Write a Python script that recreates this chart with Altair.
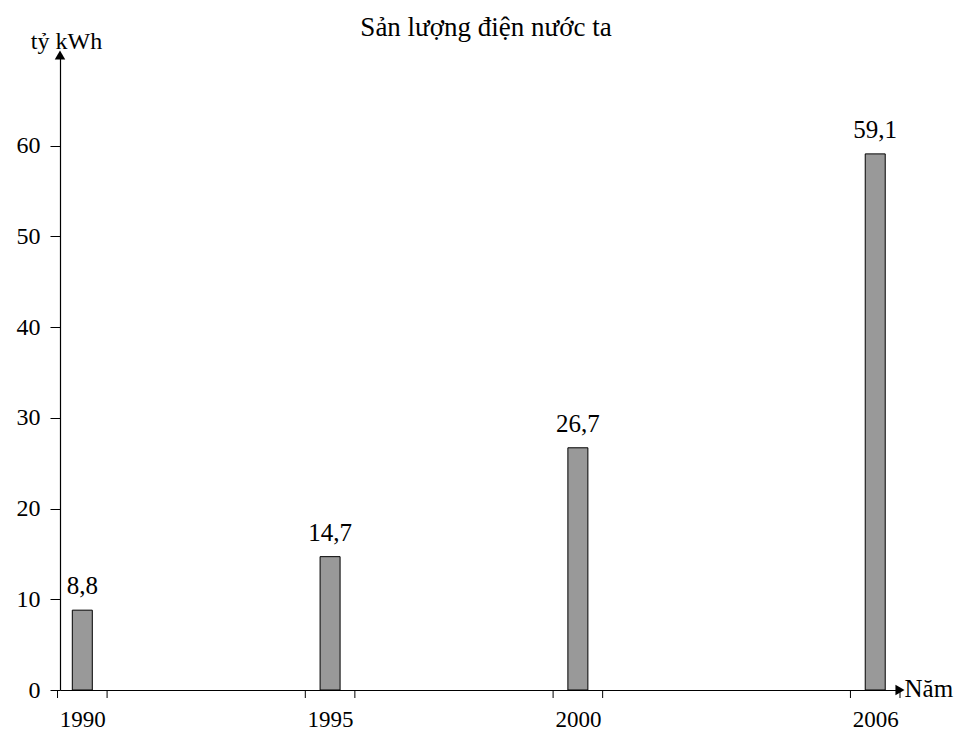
import altair as alt
import pandas as pd

years = [1990, 1995, 2000, 2006]
values = [8.8, 14.7, 26.7, 59.1]
labels = ["8,8", "14,7", "26,7", "59,1"]
y_ticks = [0, 10, 20, 30, 40, 50, 60]

x_domain = [1989.55, 2006.5]
y_domain = [0, 70]

FONT = "Liberation Serif"

df = pd.DataFrame({"year": years, "value": values, "label": labels})
ticks_df = pd.DataFrame({"pos": [y - 0.5 for y in years] + [y + 0.5 for y in years]})
ticks_df = ticks_df[ticks_df["pos"] >= x_domain[0] - 0.1]

xs = alt.Scale(domain=x_domain, nice=False, zero=False, padding=0)
ys = alt.Scale(domain=y_domain, nice=False, padding=0)

x_axis = alt.Axis(values=years, format="d", ticks=False, grid=False,
                  labelFont=FONT, labelFontSize=23, labelColor="black",
                  labelPadding=18, domainColor="black", domainWidth=1.2,
                  title="Năm", titleFont=FONT, titleFontSize=25, titleFontWeight="normal",
                  titleAngle=0, titleAlign="left", titleBaseline="middle",
                  titleX=844, titleY=-2, titleColor="black")
y_axis = alt.Axis(values=y_ticks, grid=False, tickSize=10, tickColor="black",
                  labelFont=FONT, labelFontSize=24, labelColor="black",
                  labelPadding=10, domainColor="black", domainWidth=1.2,
                  title="tỷ kWh", titleFont=FONT, titleFontSize=24, titleFontWeight="normal",
                  titleAngle=0, titleAlign="center", titleBaseline="middle",
                  titleX=6, titleY=-14, titleColor="black")

bars = alt.Chart(df).mark_bar(size=20, color="#999999", stroke="black", strokeWidth=1).encode(
    x=alt.X("year:Q", scale=xs, axis=x_axis),
    y=alt.Y("value:Q", scale=ys, axis=y_axis),
)

text = alt.Chart(df).mark_text(font=FONT, fontSize=25, dy=-24, color="black").encode(
    x=alt.X("year:Q", scale=xs),
    y=alt.Y("value:Q", scale=ys),
    text="label:N",
)

xticks = alt.Chart(ticks_df).mark_rule(color="black", strokeWidth=1).encode(
    x=alt.X("pos:Q", scale=xs),
    y=alt.value(635),
    y2=alt.value(643),
)

arrow_up = alt.Chart(pd.DataFrame({"x": [x_domain[0]], "y": [y_domain[1]]})).mark_point(
    shape="triangle-up", filled=True, color="black", size=110, opacity=1).encode(
    x=alt.X("x:Q", scale=xs), y=alt.Y("y:Q", scale=ys))

arrow_right = alt.Chart(pd.DataFrame({"x": [x_domain[1]], "y": [y_domain[0]]})).mark_point(
    shape="triangle-right", filled=True, color="black", size=110, opacity=1).encode(
    x=alt.X("x:Q", scale=xs), y=alt.Y("y:Q", scale=ys))

chart = alt.layer(bars, text, xticks, arrow_up, arrow_right).properties(
    width=840, height=635,
    background="white",
    title=alt.TitleParams("Sản lượng điện nước ta", font=FONT, fontSize=27,
                          fontWeight="normal", color="black", offset=-13, anchor="middle",
                          frame="group", dx=6),
    autosize=alt.AutoSizeParams(type="none"),
    padding={"left": 60, "top": 55, "right": 58, "bottom": 50},
).configure_view(strokeWidth=0, stroke="transparent")

chart.save("out.html", embed_options={"renderer": "svg", "actions": False})
